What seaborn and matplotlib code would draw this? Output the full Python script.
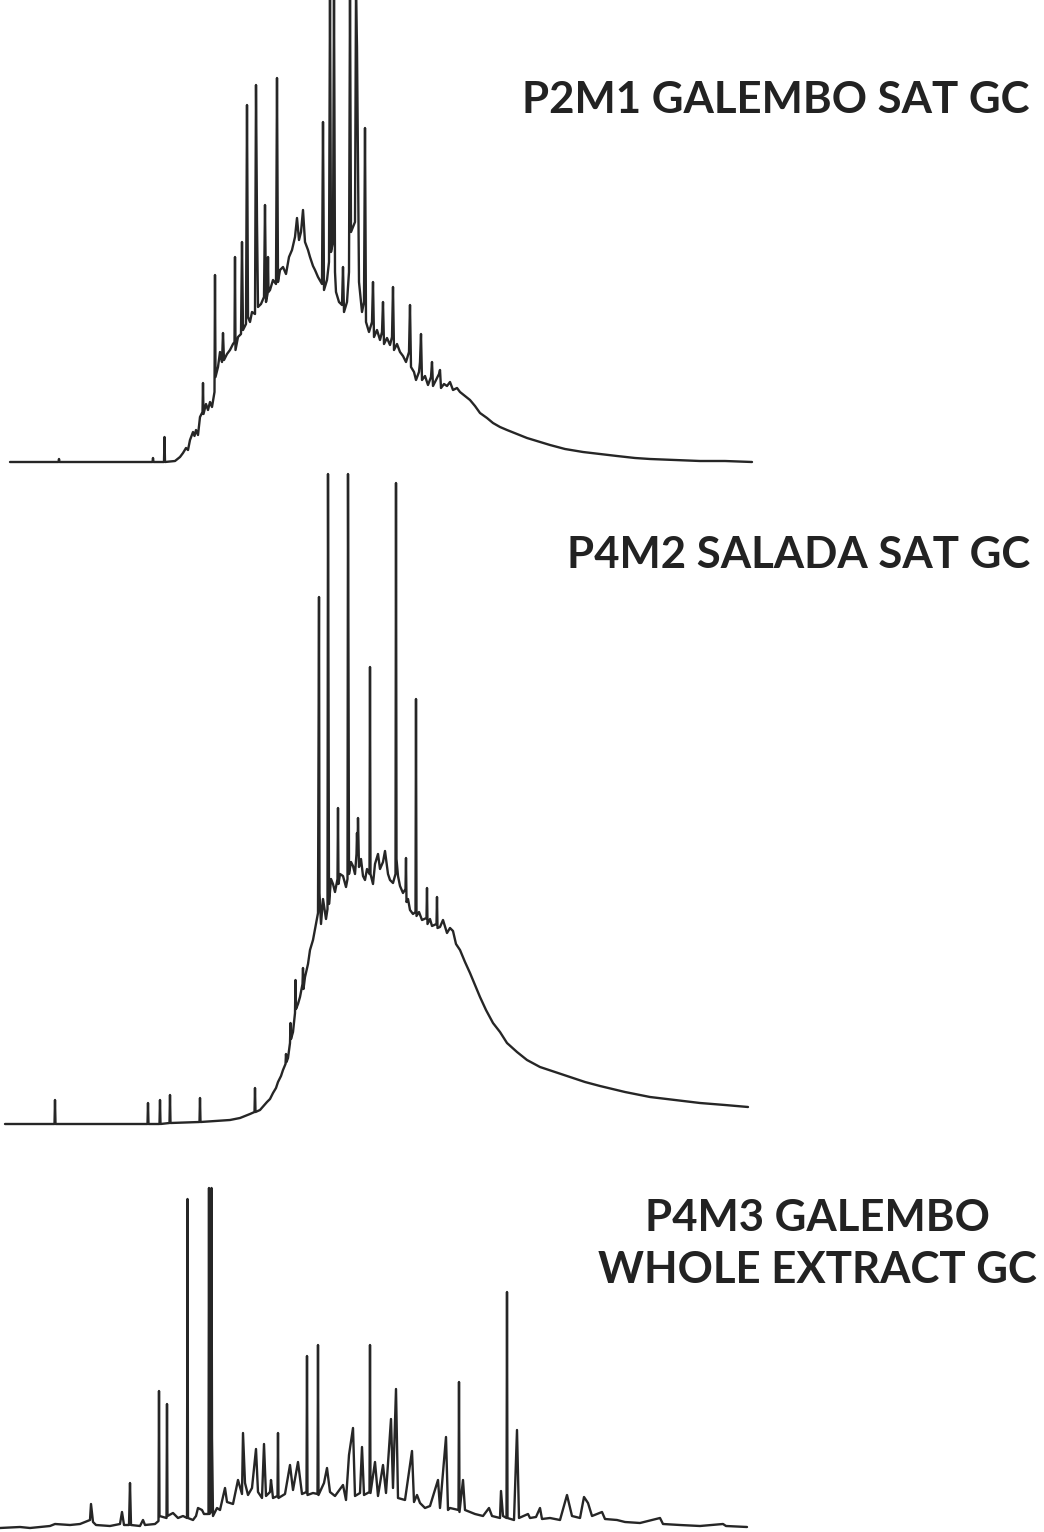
import pandas as pd
import numpy as np
import matplotlib.pyplot as plt
import seaborn as sns

# Chromatogrammes GC : temps de rétention (min) et signal (unités arbitraires)

# P2M1 GALEMBO SAT GC
p1_rt = [1.0, 5.85, 5.9, 5.95, 15.25, 15.3, 15.35, 16.4, 16.45, 16.5, 17.5, 18.0, 18.3, 18.6, 18.8,
         19.0, 19.3, 19.45, 19.6, 19.8, 20.0, 20.25, 20.3, 20.35, 20.6, 20.8, 21.0, 21.2, 21.45,
         21.5, 21.55, 21.8, 22.0, 22.2, 22.3, 22.4, 22.7, 23.0, 23.3, 23.45, 23.5, 23.55, 23.8,
         24.1, 24.2, 24.3, 24.6, 24.7, 24.8, 25.0, 25.2, 25.5, 25.6, 25.7, 25.8, 26.1, 26.4,
         26.5, 26.6, 26.75, 26.8, 26.85, 27.0, 27.3, 27.6, 27.7, 27.8, 28.0, 28.3, 28.6, 28.9,
         29.2, 29.5, 29.7, 29.9, 30.1, 30.3, 30.5, 30.8, 31.0, 31.3, 31.5, 31.8, 32.2, 32.3,
         32.4, 32.7, 32.9, 33.0, 33.1, 33.3, 33.4, 33.5, 33.6, 33.9, 34.2, 34.3, 34.4, 34.7,
         34.9, 35.0, 35.1, 35.5, 35.6, 35.7, 35.9, 36.2, 36.4, 36.5, 36.6, 36.9, 37.2, 37.3,
         37.4, 37.7, 38.0, 38.2, 38.3, 38.4, 38.7, 39.0, 39.2, 39.3, 39.4, 39.7, 40.0, 40.3,
         40.6, 40.9, 41.0, 41.1, 41.4, 41.6, 41.9, 42.0, 42.1, 42.2, 42.5, 42.8, 43.1, 43.2,
         43.3, 43.6, 43.9, 44.0, 44.1, 44.4, 44.7, 45.0, 45.3, 45.7, 46.0, 46.5, 47.0, 47.5,
         48.0, 48.7, 49.3, 50.0, 50.7, 51.7, 52.7, 54.0, 55.0, 56.5, 58.3, 60.0, 61.7, 63.5,
         65.0, 67.5, 70.0, 72.5, 75.2]
p1_sig = [0, 0, 3, 0, 0, 4, 0, 0, 25, 0, 1, 5, 9, 14, 12,
          22, 30, 26, 32, 27, 45, 50, 79, 48, 58, 52, 60, 55, 70,
          187, 85, 95, 110, 100, 129, 102, 108, 112, 118, 120, 205, 112, 125,
          128, 220, 132, 138, 357, 145, 140, 150, 148, 377, 240, 155, 158, 165,
          257, 160, 168, 205, 170, 172, 182, 178, 384, 180, 192, 195, 188, 205,
          212, 225, 244, 222, 230, 252, 220, 212, 205, 196, 192, 185, 178, 340,
          172, 182, 200, 470, 210, 220, 470, 190, 170, 160, 157, 195, 150, 160,
          190, 470, 230, 240, 470, 415, 180, 150, 160, 334, 140, 130, 140, 180,
          125, 132, 122, 130, 160, 118, 124, 117, 125, 175, 112, 118, 110, 106,
          100, 110, 157, 95, 90, 82, 90, 100, 128, 82, 86, 77, 85, 100,
          76, 82, 88, 92, 74, 78, 76, 80, 72, 74, 70, 66, 62, 56,
          49, 44, 39, 35, 32, 28, 24, 20, 17, 13, 10, 8, 6, 4,
          3, 2, 1, 1, 0]

# P4M2 SALADA SAT GC
p2_rt = [0.5, 5.45, 5.5, 5.55, 14.75, 14.8, 14.85, 15.95, 16.0, 16.05, 16.95, 17.0, 17.05, 19.95, 20.0,
         20.05, 23.0, 24.0, 25.0, 25.45, 25.5, 25.55, 26.0, 26.7, 27.0, 27.3, 27.6, 27.8, 28.1,
         28.3, 28.55, 28.6, 28.65, 28.8, 29.0, 29.05, 29.1, 29.3, 29.5, 29.55, 29.6, 29.8, 30.0,
         30.25, 30.3, 30.35, 30.5, 30.8, 31.0, 31.3, 31.6, 31.8, 31.9, 31.95, 32.1, 32.3, 32.6,
         32.75, 32.8, 32.9, 33.1, 33.3, 33.5, 33.75, 33.8, 33.85, 34.0, 34.3, 34.6, 34.75, 34.8,
         34.9, 35.1, 35.3, 35.5, 35.65, 35.7, 35.75, 35.8, 35.9, 36.1, 36.3, 36.5, 36.7, 36.95,
         37.0, 37.05, 37.3, 37.5, 37.8, 38.0, 38.3, 38.5, 38.8, 39.0, 39.3, 39.55, 39.6, 39.65,
         39.8, 40.0, 40.3, 40.55, 40.6, 40.65, 40.8, 41.0, 41.3, 41.55, 41.6, 41.65, 41.9, 42.2,
         42.65, 42.7, 42.75, 43.0, 43.2, 43.65, 43.7, 43.75, 44.0, 44.3, 44.7, 45.0, 45.3, 45.6,
         46.0, 46.5, 47.0, 47.5, 48.0, 48.6, 49.3, 50.0, 50.7, 51.7, 52.7, 54.0, 55.5, 57.0,
         58.5, 60.0, 62.5, 65.0, 67.5, 70.0, 72.5, 74.8]
p2_sig = [0, 0, 24, 0, 0, 21, 0, 0, 24, 0, 1, 29, 1, 2, 26,
          2, 4, 6, 10, 12, 36, 12, 14, 22, 25, 31, 36, 42, 48,
          54, 60, 70, 62, 66, 81, 101, 85, 92, 111, 144, 115, 120, 127,
          140, 156, 135, 147, 160, 174, 184, 200, 211, 527, 231, 200, 225, 205,
          215, 650, 220, 245, 240, 232, 245, 316, 240, 250, 248, 237, 245, 650,
          250, 262, 258, 250, 270, 291, 270, 306, 257, 265, 248, 244, 255, 250,
          457, 250, 240, 260, 270, 255, 262, 273, 250, 244, 241, 250, 641, 265,
          248, 238, 231, 235, 266, 222, 225, 214, 210, 212, 425, 208, 212, 204,
          206, 236, 200, 205, 198, 200, 227, 196, 197, 204, 191, 196, 193, 180,
          174, 162, 151, 139, 127, 114, 101, 92, 81, 72, 64, 57, 52, 47,
          42, 38, 32, 27, 24, 21, 19, 17]

# P4M3 GALEMBO WHOLE EXTRACT GC
p3_rt = [0.0, 2.0, 3.0, 5.0, 5.5, 7.0, 8.0, 8.5, 9.0, 9.1, 9.3, 9.6, 11.0, 12.0, 12.2,
         12.4, 12.9, 13.0, 13.1, 14.0, 14.3, 14.5, 15.5, 15.85, 15.9, 15.95, 16.65, 16.7, 16.75,
         17.3, 17.8, 18.3, 18.7, 18.75, 18.8, 19.3, 19.6, 19.8, 20.2, 20.4, 20.85, 20.9, 20.95,
         21.1, 21.15, 21.2, 21.3, 21.7, 22.0, 22.5, 22.7, 23.3, 23.8, 24.2, 24.3, 24.5, 24.8,
         25.2, 25.6, 25.8, 26.2, 26.4, 26.6, 27.0, 27.1, 27.3, 27.75, 27.8, 27.85, 28.5, 29.0,
         29.3, 29.8, 30.2, 30.65, 30.7, 30.75, 31.3, 31.75, 31.8, 31.85, 32.4, 32.7, 33.0, 33.5,
         34.3, 34.6, 34.9, 35.3, 35.5, 36.0, 36.2, 36.4, 36.95, 37.0, 37.05, 37.5, 37.8, 38.3,
         38.6, 39.1, 39.3, 39.6, 39.8, 40.5, 41.2, 41.4, 41.7, 42.0, 42.5, 43.0, 43.8, 44.0,
         44.6, 44.8, 45.0, 45.85, 45.9, 45.95, 46.3, 46.5, 47.5, 48.3, 48.9, 49.2, 50.0, 50.1,
         50.3, 50.65, 50.7, 50.75, 51.4, 51.7, 51.9, 52.8, 53.0, 53.6, 54.0, 54.2, 55.0, 56.0,
         56.7, 57.2, 58.0, 58.4, 58.8, 59.2, 60.2, 60.5, 61.7, 62.5, 64.0, 66.0, 66.3, 68.0,
         70.0, 72.3, 72.6, 74.7]
p3_sig = [0, 1, 0, 2, 4, 3, 4, 6, 8, 24, 6, 3, 2, 4, 16,
          3, 3, 45, 3, 2, 8, 3, 4, 7, 137, 12, 10, 124, 12,
          15, 10, 12, 10, 329, 10, 8, 12, 20, 18, 14, 14, 340, 14,
          16, 340, 90, 12, 20, 18, 40, 26, 24, 48, 34, 95, 45, 33,
          40, 79, 36, 30, 84, 32, 36, 48, 30, 32, 95, 30, 34, 63,
          38, 66, 34, 36, 172, 33, 35, 34, 183, 33, 45, 60, 36, 32,
          43, 28, 73, 100, 32, 35, 81, 33, 36, 183, 35, 66, 32, 63,
          35, 109, 40, 139, 30, 28, 77, 26, 33, 25, 20, 22, 48, 20,
          91, 18, 20, 18, 146, 16, 48, 18, 14, 12, 20, 12, 10, 37,
          12, 10, 236, 10, 8, 98, 10, 14, 10, 11, 20, 9, 10, 8,
          33, 12, 10, 31, 25, 12, 16, 9, 8, 6, 5, 10, 4, 3,
          2, 4, 2, 1]

labels = ["P2M1 GALEMBO SAT GC", "P4M2 SALADA SAT GC", "P4M3 GALEMBO\nWHOLE EXTRACT GC"]

traces = [
    pd.DataFrame({"rt": p1_rt, "signal": p1_sig}),
    pd.DataFrame({"rt": p2_rt, "signal": p2_sig}),
    pd.DataFrame({"rt": p3_rt, "signal": p3_sig}),
]

sns.set_theme(style="white")
plt.rcParams["font.family"] = ["Lato", "DejaVu Sans"]

W, H = 1044, 1532
fig = plt.figure(figsize=(W / 100, H / 100), dpi=100)

# bandes verticales (pixels) et ligne de base de chaque panneau
bands = [(0, 470, 462), (470, 1130, 1124), (1130, 1532, 1528)]

for df, (top, bot, base) in zip(traces, bands):
    ax = fig.add_axes([0, 1 - bot / H, 1, (bot - top) / H])
    sns.lineplot(data=df, x="rt", y="signal", ax=ax, sort=False, estimator=None,
                 color="#262626", linewidth=1.7)
    ax.set_xlim(0, W / 10)
    ax.set_ylim(base - bot, base - top)
    ax.axis("off")

# titres des panneaux
txt = dict(fontsize=31.5, color="#222222", fontweight="bold")
fig.text(1030 / W, 1 - 100 / H, labels[0], ha="right", va="center", **txt)
fig.text(1030 / W, 1 - 555 / H, labels[1], ha="right", va="center", **txt)
fig.text(817 / W, 1 - 1244 / H, labels[2], ha="center", va="center", linespacing=1.35, **txt)

plt.savefig("out.png", dpi=100)
